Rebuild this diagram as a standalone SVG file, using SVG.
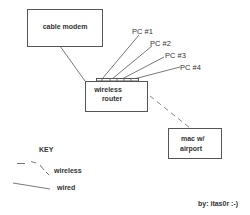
<svg xmlns="http://www.w3.org/2000/svg" width="250" height="215" viewBox="0 0 250 215">
<style>
.box{fill:#fff;stroke:#555;stroke-width:1}
.ln{stroke:#555;stroke-width:0.8;fill:none}
.dash{stroke:#666;stroke-width:0.8;fill:none;stroke-dasharray:5,4}
.t{font-family:"Liberation Sans",Arial,sans-serif;font-size:7px;font-weight:bold;fill:#333}
.pc{font-family:"Liberation Sans",Arial,sans-serif;font-size:7.5px;fill:#333}
</style>
<rect width="250" height="215" fill="#fff"/>
<g id="connectors">
<line class="ln" x1="60" y1="46" x2="85" y2="81"/>
<line class="ln" x1="102" y1="79" x2="139" y2="35"/>
<line class="ln" x1="112" y1="79" x2="152" y2="46"/>
<line class="ln" x1="122" y1="79" x2="164" y2="57"/>
<line class="ln" x1="134" y1="79" x2="180" y2="67"/>
<line class="dash" x1="150" y1="96" x2="190" y2="128"/>
</g>
<g id="cable-modem">
<rect class="box" x="27.5" y="9.5" width="75" height="37"/>
<text class="t" x="65" y="29" text-anchor="middle">cable modem</text>
</g>
<g id="wireless-router">
<rect class="box" x="85.5" y="81.5" width="62" height="30"/>
<rect class="box" x="96.5" y="78.5" width="42" height="2.5" stroke-width="0.7"/>
<line class="ln" x1="102" y1="78.5" x2="102" y2="81"/>
<line class="ln" x1="110" y1="78.5" x2="110" y2="81"/>
<line class="ln" x1="117" y1="78.5" x2="117" y2="81"/>
<line class="ln" x1="124" y1="78.5" x2="124" y2="81"/>
<line class="ln" x1="131" y1="78.5" x2="131" y2="81"/>
<text class="t" x="108" y="92" text-anchor="middle">wireless</text>
<text class="t" x="112" y="101" text-anchor="middle">router</text>
</g>
<g id="pc1"><text class="pc" x="132" y="34">PC #1</text></g>
<g id="pc2"><text class="pc" x="150" y="46">PC #2</text></g>
<g id="pc3"><text class="pc" x="165" y="58">PC #3</text></g>
<g id="pc4"><text class="pc" x="180" y="70">PC #4</text></g>
<g id="mac">
<rect class="box" x="168.5" y="128.5" width="53" height="30"/>
<text class="t" x="181" y="141">mac w/</text>
<text class="t" x="180" y="151">airport</text>
</g>
<g id="key">
<text class="t" x="39" y="152">KEY</text>
<path class="ln" d="M17 163.5H25M31 161.5L36 163M40 165L44 170M46 172L49 175"/>
<text class="t" x="54" y="173">wireless</text>
<line class="ln" x1="13" y1="183" x2="50" y2="189"/>
<text class="t" x="57" y="190">wired</text>
</g>
<text class="t" x="198" y="206">by: itas0r :-)</text>
</svg>
